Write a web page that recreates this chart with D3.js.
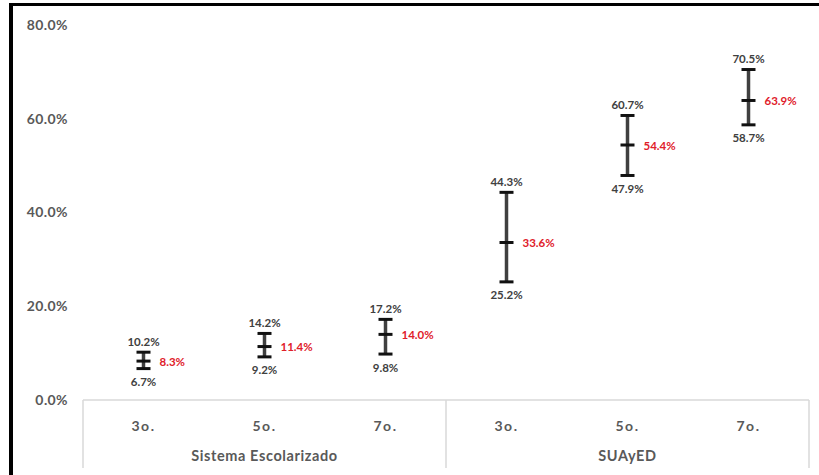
<!DOCTYPE html>
<html>
<head>
<meta charset="utf-8">
<script src="https://cdn.jsdelivr.net/npm/d3@7"></script>
<style>
  body { margin: 0; background: #fff; }
  text { font-family: Lato, "Open Sans", sans-serif; }
</style>
</head>
<body>
<div id="chart"></div>
<script>
// Chart data
const groups = ['Sistema Escolarizado', 'SUAyED'];
const grades = ['3o.', '5o.', '7o.', '3o.', '5o.', '7o.'];
const lowValues = [6.7, 9.2, 9.8, 25.2, 47.9, 58.7];
const highValues = [10.2, 14.2, 17.2, 44.3, 60.7, 70.5];
const meanValues = [8.3, 11.4, 14.0, 33.6, 54.4, 63.9];
const yTicks = [0, 20, 40, 60, 80];

const W = 819, H = 475;
const PLOT = { LEFT: 83, RIGHT: 809, TOP: 25, BOTTOM: 400 };

const svg = d3.select('#chart')
  .append('svg')
  .attr('width', W)
  .attr('height', H);

// Frame (left and top black border)
svg.append('line').attr('x1', 11).attr('x2', 11).attr('y1', 3).attr('y2', H)
  .attr('stroke', '#000').attr('stroke-width', 4);
svg.append('line').attr('x1', 9).attr('x2', W).attr('y1', 4.5).attr('y2', 4.5)
  .attr('stroke', '#000').attr('stroke-width', 3);

const data = grades.map((g, i) => ({
  key: i, grade: g, low: lowValues[i], high: highValues[i], mean: meanValues[i]
}));

// Scales
const x = d3.scaleBand()
  .domain(data.map(d => d.key))
  .range([PLOT.LEFT, PLOT.RIGHT])
  .padding(0);

const y = d3.scaleLinear()
  .domain([0, 80])
  .range([PLOT.BOTTOM, PLOT.TOP]);

const pct = d => d.toFixed(1) + '%';

// Y axis (labels only)
const yAxis = svg.append('g')
  .attr('transform', 'translate(68,0)')
  .call(d3.axisLeft(y).tickValues(yTicks).tickSize(0).tickPadding(0).tickFormat(pct));
yAxis.select('.domain').remove();
yAxis.selectAll('text')
  .attr('fill', '#595959')
  .style('font-size', '14px')
  .style('font-weight', 'bold')
  .style('letter-spacing', '0.4px');

// X axis box lines
const axisColor = '#d9d9d9';
svg.append('line')
  .attr('x1', PLOT.LEFT).attr('x2', PLOT.RIGHT)
  .attr('y1', PLOT.BOTTOM).attr('y2', PLOT.BOTTOM)
  .attr('stroke', axisColor).attr('stroke-width', 1.5);

const dividers = [0, 3, 6].map(i => i < 6 ? x(i) : x(5) + x.bandwidth());
svg.selectAll('.divider')
  .data(dividers)
  .enter()
  .append('line')
  .attr('x1', d => d).attr('x2', d => d)
  .attr('y1', PLOT.BOTTOM).attr('y2', 468)
  .attr('stroke', axisColor).attr('stroke-width', 1.5);

// Grade labels
svg.selectAll('.grade')
  .data(data)
  .enter()
  .append('text')
  .attr('x', d => x(d.key) + x.bandwidth() / 2)
  .attr('y', 425)
  .attr('text-anchor', 'middle')
  .attr('dominant-baseline', 'central')
  .attr('fill', '#595959')
  .style('font-size', '14px')
  .style('font-weight', 'bold')
  .style('letter-spacing', '1.5px')
  .text(d => d.grade);

// Group labels
svg.selectAll('.group')
  .data(groups)
  .enter()
  .append('text')
  .attr('x', (d, i) => x(i * 3) + x.bandwidth() * 1.5)
  .attr('y', 455)
  .attr('text-anchor', 'middle')
  .attr('dominant-baseline', 'central')
  .attr('fill', '#595959')
  .style('font-size', '14.5px')
  .style('font-weight', 'bold')
  .style('letter-spacing', '0.6px')
  .text(d => d);

// Error bars
const barColor = '#404040';
const capW = 7;
const bars = svg.selectAll('.bar')
  .data(data)
  .enter()
  .append('g')
  .attr('transform', d => `translate(${x(d.key) + x.bandwidth() / 2},0)`);

bars.append('line')
  .attr('x1', 0).attr('x2', 0)
  .attr('y1', d => y(d.high)).attr('y2', d => y(d.low))
  .attr('stroke', barColor).attr('stroke-width', 3.5);

['high', 'low', 'mean'].forEach(function(k) {
  bars.append('line')
    .attr('x1', -capW).attr('x2', capW)
    .attr('y1', d => y(d[k])).attr('y2', d => y(d[k]))
    .attr('stroke', '#111').attr('stroke-width', 3);
});

// Value labels
const labelSize = '11.5px';
bars.append('text')
  .attr('x', 0)
  .attr('y', d => y(d.high) - 11)
  .attr('text-anchor', 'middle')
  .attr('dominant-baseline', 'central')
  .attr('fill', '#404040')
  .style('font-size', labelSize)
  .style('font-weight', 'bold')
  .text(d => pct(d.high));

bars.append('text')
  .attr('x', 0)
  .attr('y', d => y(d.low) + 13)
  .attr('text-anchor', 'middle')
  .attr('dominant-baseline', 'central')
  .attr('fill', '#404040')
  .style('font-size', labelSize)
  .style('font-weight', 'bold')
  .text(d => pct(d.low));

bars.append('text')
  .attr('x', 16)
  .attr('y', d => y(d.mean))
  .attr('dominant-baseline', 'central')
  .attr('fill', '#e0202a')
  .style('font-size', labelSize)
  .style('font-weight', 'bold')
  .text(d => pct(d.mean));
</script>
</body>
</html>
